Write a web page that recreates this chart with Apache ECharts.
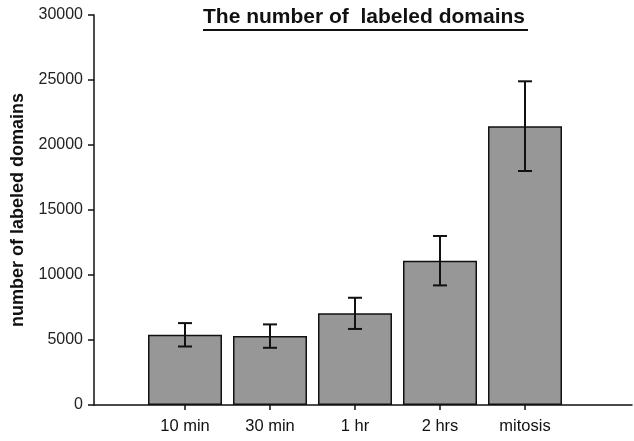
<!DOCTYPE html>
<html>
<head>
<meta charset="utf-8">
<script src="https://cdn.jsdelivr.net/npm/echarts@6/dist/echarts.min.js"></script>
<style>html,body{margin:0;padding:0;background:#fff}#c{width:634px;height:441px}</style>
</head>
<body>
<div id="c"></div>
<script>
var categories = ['10 min', '30 min', '1 hr', '2 hrs', 'mitosis'];
var means = [5400, 5300, 7050, 11100, 21450];
var errors = [900, 900, 1200, 1900, 3450];
var yTicks = [0, 5000, 10000, 15000, 20000, 25000, 30000];
var titleText = 'The number of  labeled domains';
var yName = 'number of labeled domains';

var chart = echarts.init(document.getElementById('c'), null, {renderer: 'canvas'});
var font = 'Liberation Sans, Arial, sans-serif';
var errData = means.map(function (m, i) { return [i, m - errors[i], m + errors[i]]; });

chart.setOption({
  animation: false,
  backgroundColor: '#fff',
  graphic: [{
    type: 'group',
    left: 203, top: 7,
    children: [
      {type: 'text', left: 0, top: 0, style: {text: titleText, font: 'bold 21px ' + font, fill: '#111'}},
      {type: 'rect', shape: {x: 0, y: 22, width: 325, height: 2}, style: {fill: '#111'}}
    ]
  }],
  grid: [
    {left: 94, right: 2, top: 15, bottom: 36},
    {left: 142.5, right: 66.5, top: 15, bottom: 36}
  ],
  xAxis: [
    {type: 'value', gridIndex: 0, min: 0, max: 1,
      axisLine: {show: true, lineStyle: {color: '#111', width: 1.5}},
      axisTick: {show: false}, axisLabel: {show: false}, splitLine: {show: false}},
    {type: 'category', gridIndex: 1, data: categories,
      axisLine: {show: false},
      axisTick: {show: true, alignWithLabel: true, length: 5, lineStyle: {color: '#111', width: 1.5}},
      axisLabel: {color: '#111', fontSize: 16.5, fontFamily: font, margin: 13},
      splitLine: {show: false}}
  ],
  yAxis: [
    {type: 'value', gridIndex: 0, min: yTicks[0], max: yTicks[yTicks.length - 1], interval: yTicks[1] - yTicks[0],
      name: yName, nameLocation: 'middle', nameGap: 67,
      nameTextStyle: {fontSize: 18, fontWeight: 'bold', fontFamily: font, color: '#111'},
      axisLine: {show: true, lineStyle: {color: '#111', width: 1.5}},
      axisTick: {show: true, inside: false, length: 6, lineStyle: {color: '#111', width: 1.5}},
      axisLabel: {color: '#222', fontSize: 16, fontFamily: font, margin: 11,
        formatter: function (v) { return String(v); }},
      splitLine: {show: false}},
    {type: 'value', gridIndex: 1, min: yTicks[0], max: yTicks[yTicks.length - 1], show: false, splitLine: {show: false}}
  ],
  series: [
    {type: 'bar', xAxisIndex: 1, yAxisIndex: 1, data: means, barWidth: 74,
      itemStyle: {color: '#979797', borderColor: '#111', borderWidth: 1.5}},
    {type: 'custom', xAxisIndex: 1, yAxisIndex: 1, data: errData, z: 10,
      renderItem: function (params, api) {
        var x = api.value(0);
        var lo = api.coord([x, api.value(1)]);
        var hi = api.coord([x, api.value(2)]);
        var cap = 7;
        var st = {stroke: '#111', lineWidth: 2};
        return {type: 'group', children: [
          {type: 'line', shape: {x1: lo[0], y1: lo[1], x2: hi[0], y2: hi[1]}, style: st},
          {type: 'line', shape: {x1: lo[0] - cap, y1: lo[1], x2: lo[0] + cap, y2: lo[1]}, style: st},
          {type: 'line', shape: {x1: hi[0] - cap, y1: hi[1], x2: hi[0] + cap, y2: hi[1]}, style: st}
        ]};
      }}
  ]
});
</script>
</body>
</html>
